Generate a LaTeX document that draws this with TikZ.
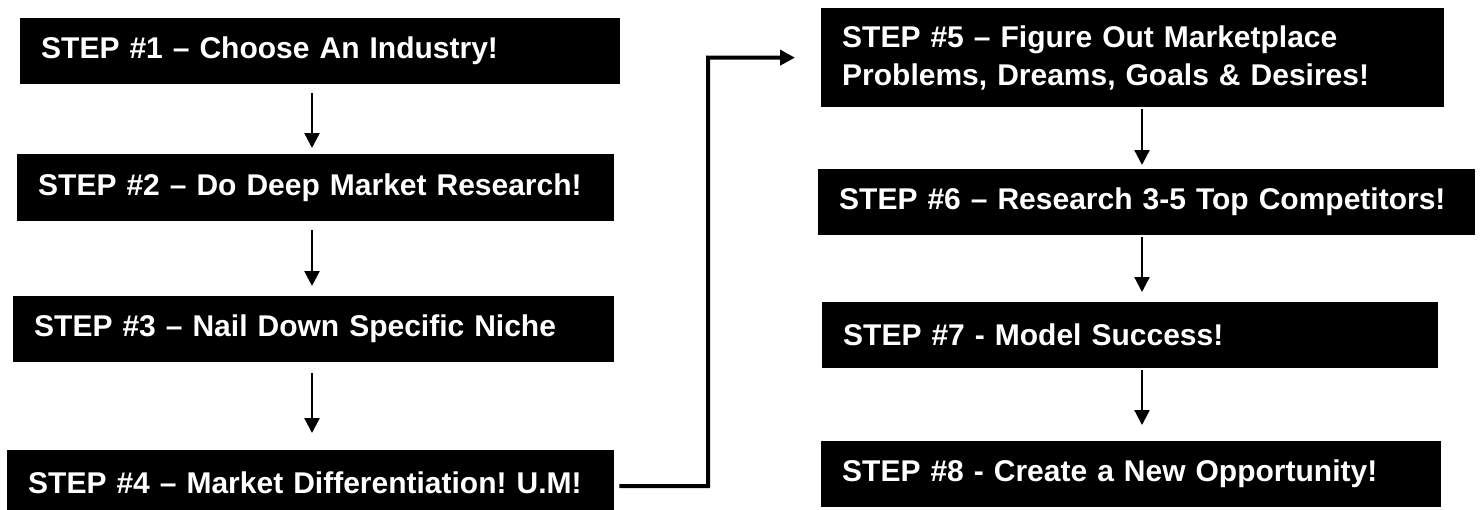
\documentclass[tikz,border=0pt]{standalone}
\usepackage{fontspec}
\newfontfamily\stepfam{Liberation Sans}
\usetikzlibrary{arrows.meta}
\frenchspacing
\tikzset{
  stepbox/.style={fill=black, text=white, anchor=north west, inner xsep=21pt, inner ysep=0pt,
    align=left, font={\stepfam\bfseries\fontsize{30}{38}\selectfont\frenchspacing}},
  arr/.style={line width=2.3pt, -{Triangle[width=15pt,length=15pt]}},
  link/.style={line width=4pt, line join=miter, -{Triangle[width=15pt,length=15pt]}}
}
\begin{document}
\begin{tikzpicture}[x=1pt,y=-1pt]
\clip (0,0) rectangle (1482,509);
\fill[white] (0,0) rectangle (1482,509);
% left column
\node[stepbox, text width=558pt, minimum height=66pt] (s1) at (20,18) {\mbox{STEP \#1 – Choose An Industry!}};
\node[stepbox, text width=555pt, minimum height=67pt] (s2) at (17,154) {\mbox{STEP \#2 – Do Deep Market Research!}};
\node[stepbox, text width=559pt, minimum height=66pt] (s3) at (13,296) {\mbox{STEP \#3 – Nail Down Specific Niche}};
\node[stepbox, text width=565pt, minimum height=66pt] (s4) at (7,450) {\mbox{STEP \#4 – Market Differentiation! U.M!}};
% right column
\node[stepbox, text width=581pt, minimum height=99pt] (s5) at (821,8) {STEP \#5 – Figure Out Marketplace\\Problems, Dreams, Goals \& Desires!};
\node[stepbox, text width=615pt, minimum height=66pt] (s6) at (818,169) {\mbox{STEP \#6 – Research 3-5 Top Competitors!}};
\node[stepbox, text width=574pt, minimum height=66pt] (s7) at (822,302) {\mbox{STEP \#7 - Model Success!}};
\node[stepbox, text width=578pt, minimum height=66pt] (s8) at (821,441) {\mbox{STEP \#8 - Create a New Opportunity!}};
% arrow columns
\coordinate (colL) at (312,0);
\coordinate (colR) at (1142,0);
\coordinate (bend) at (708,57.5);
\draw[arr, shorten <=9pt, shorten >=6pt] (s1.south -| colL) -- (s2.north -| colL);
\draw[arr, shorten <=9pt, shorten >=10pt] (s2.south -| colL) -- (s3.north -| colL);
\draw[arr, shorten <=11pt, shorten >=17pt] (s3.south -| colL) -- (s4.north -| colL);
\draw[arr, shorten <=2pt, shorten >=4pt] (s5.south -| colR) -- (s6.north -| colR);
\draw[arr, shorten <=2pt, shorten >=10pt] (s6.south -| colR) -- (s7.north -| colR);
\draw[arr, shorten <=2pt, shorten >=16pt] (s7.south -| colR) -- (s8.north -| colR);
% link from step 4 to step 5
\draw[link, shorten <=5pt, shorten >=26pt] ([yshift=-3pt]s4.east) -| (bend) -- (s5.west);
\end{tikzpicture}
\end{document}
